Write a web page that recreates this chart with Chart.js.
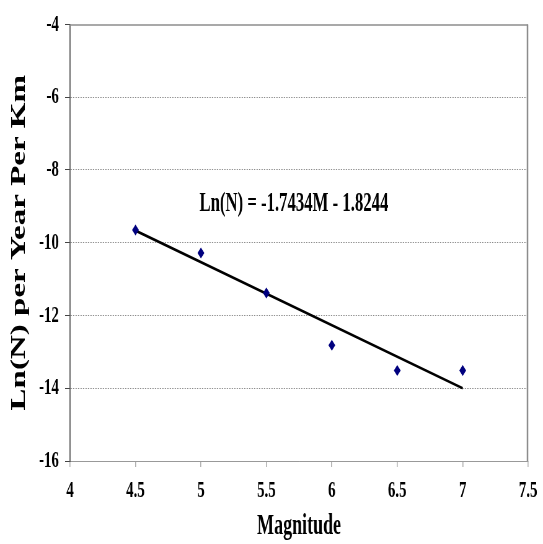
<!DOCTYPE html>
<html>
<head>
<meta charset="utf-8">
<script src="https://cdn.jsdelivr.net/npm/chart.js@4/dist/chart.umd.min.js"></script>
<style>
    html, body { margin: 0; padding: 0; background: #fff; overflow: hidden; }
</style>
</head>
<body>
<!-- the original picture is squeezed sideways, so draw wide and shrink -->
<canvas id="chart" width="876" height="544" style="width:543px;height:544px;display:block"></canvas>
<script>
// data
const magnitudes = [4.5, 5, 5.5, 6, 6.5, 7];
const lnN = [-9.65, -10.28, -11.38, -12.82, -13.51, -13.51];

// trend line end points
const trendX = [4.5, 7];
const trendY = [-9.67, -14.0];

const equationText = "Ln(N) = -1.7434M - 1.8244";
const equationPos = [5.71, -8.95];

const xTitle = "Magnitude";
const yTitle = "Ln(N) per Year Per Km";

const serif = "'Liberation Serif', 'Times New Roman', serif";

function toPoints(xs, ys) {
    return xs.map((x, i) => ({ x: x, y: ys[i] }));
}

// draw the trendline equation at a data position
const equationLabel = {
    id: "equationLabel",
    afterDatasetsDraw(chart) {
        const ctx = chart.ctx;
        const x = chart.scales.x.getPixelForValue(equationPos[0]);
        const y = chart.scales.y.getPixelForValue(equationPos[1]);
        ctx.save();
        ctx.font = "bold 27px " + serif;
        ctx.fillStyle = "#000";
        ctx.textAlign = "center";
        ctx.textBaseline = "middle";
        ctx.fillText(equationText, x, y);
        ctx.restore();
    },
};

// grey top and right edges of the plot box
const plotFrame = {
    id: "plotFrame",
    beforeDatasetsDraw(chart) {
        const { ctx, chartArea } = chart;
        ctx.save();
        ctx.strokeStyle = "#8c8c8c";
        ctx.lineWidth = 1.5;
        ctx.beginPath();
        ctx.moveTo(chartArea.left, chartArea.top + 0.5);
        ctx.lineTo(chartArea.right, chartArea.top + 0.5);
        ctx.stroke();
        ctx.lineWidth = 2.5;
        ctx.beginPath();
        ctx.moveTo(chartArea.right - 1, chartArea.top);
        ctx.lineTo(chartArea.right - 1, chartArea.bottom);
        ctx.stroke();
        ctx.restore();
    },
};

const ctx = document.getElementById("chart").getContext("2d");

new Chart(ctx, {
    type: "scatter",
    data: {
        datasets: [
            {
                label: "Ln(N)",
                data: toPoints(magnitudes, lnN),
                pointStyle: "rectRot",
                pointRadius: 5.5,
                backgroundColor: "#00007f",
                borderColor: "#00007f",
                borderWidth: 0,
                order: 1,
            },
            {
                label: "Trend",
                data: toPoints(trendX, trendY),
                showLine: true,
                pointRadius: 0,
                borderColor: "#000",
                borderWidth: 2.8,
                order: 2,
            },
        ],
    },
    options: {
        responsive: false,
        animation: false,
        layout: {
            padding: { left: 0, right: 18, top: 17, bottom: 0 },
        },
        plugins: {
            legend: { display: false },
            tooltip: { enabled: false },
        },
        scales: {
            x: {
                type: "linear",
                min: 4,
                max: 7.5,
                afterFit: (scale) => { scale.height = 83; },
                ticks: {
                    stepSize: 0.5,
                    padding: 9,
                    color: "#000",
                    font: { family: serif, size: 24, weight: "bold" },
                    callback: (v) => String(v),
                },
                grid: {
                    color: "rgba(0,0,0,0)",
                    lineWidth: 1.6,
                    tickColor: "#b0b0b0",
                    tickLength: 6,
                },
                border: { color: "#999", width: 1 },
                title: {
                    display: true,
                    text: xTitle,
                    color: "#000",
                    font: { family: serif, size: 29, weight: "bold" },
                    padding: { top: 0, bottom: 0 },
                },
            },
            y: {
                min: -16,
                max: -4,
                afterFit: (scale) => { scale.width = 113; },
                ticks: {
                    stepSize: 2,
                    padding: 10,
                    color: "#000",
                    font: { family: serif, size: 24, weight: "bold" },
                    callback: (v) => String(v),
                },
                grid: {
                    color: (c) => (c.tick && (c.tick.value === -16 || c.tick.value === -4) ? "rgba(0,0,0,0)" : "#8a8a8a"),
                    lineWidth: 1,
                    tickColor: "#444",
                    tickLength: 8,
                },
                border: {
                    color: "#555",
                    width: 1.8,
                    dash: [2, 2],
                },
                title: {
                    display: true,
                    text: yTitle,
                    color: "#000",
                    font: { family: serif, size: 33, weight: "bold" },
                    padding: { top: 12, bottom: 0 },
                },
            },
        },
    },
    plugins: [plotFrame, equationLabel],
});
</script>
</body>
</html>
